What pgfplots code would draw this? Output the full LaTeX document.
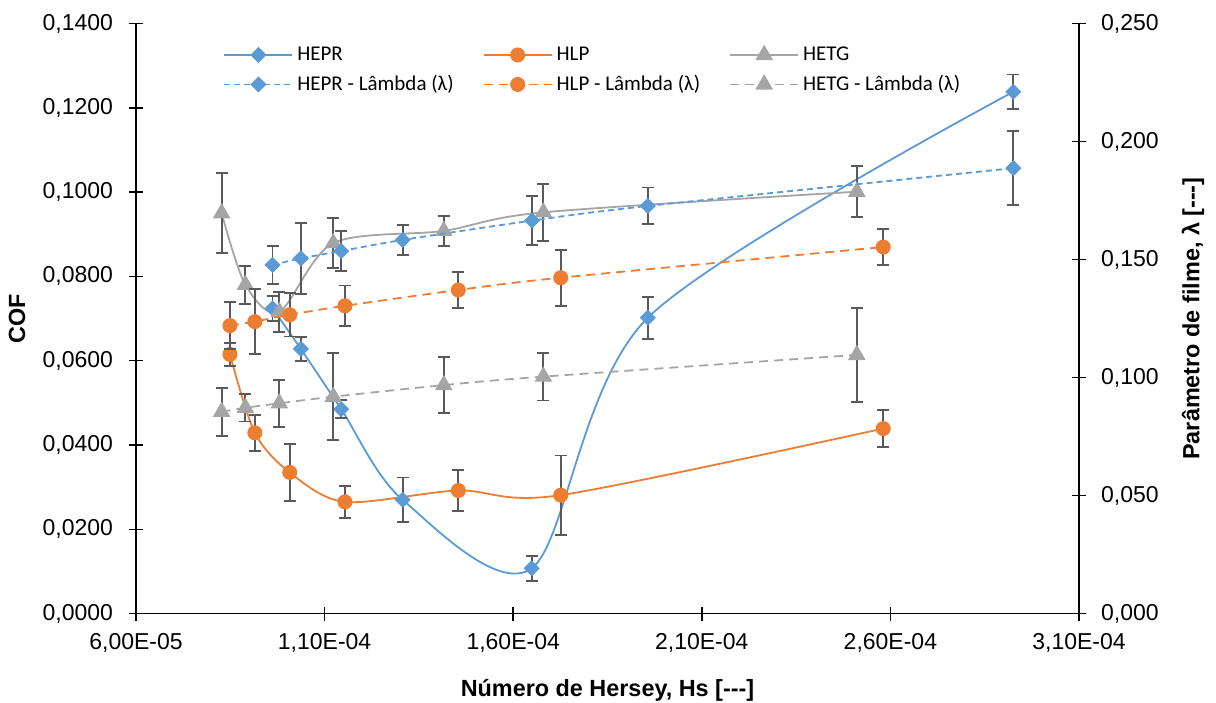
\documentclass[border=0pt]{standalone}
\usepackage{fontspec}
\setmainfont{Liberation Sans}
\newfontfamily\calibri{Carlito}
\usepackage{pgfplots}
\pgfplotsset{compat=1.18}
\definecolor{cblue}{HTML}{5B9BD5}
\definecolor{corange}{HTML}{ED7D31}
\definecolor{cgray}{HTML}{A5A5A5}
\definecolor{cerr}{HTML}{595959}
\pgfdeclareplotmark{xdiamond}{%
  \pgfpathmoveto{\pgfqpoint{0pt}{\pgfplotmarksize}}%
  \pgfpathlineto{\pgfqpoint{\pgfplotmarksize}{0pt}}%
  \pgfpathlineto{\pgfqpoint{0pt}{-\pgfplotmarksize}}%
  \pgfpathlineto{\pgfqpoint{-\pgfplotmarksize}{0pt}}%
  \pgfpathclose\pgfusepathqfillstroke}

\pgfplotstableread{
x y e
9.62e-5 0.0724 0.0030
1.037e-4 0.0628 0.0028
1.144e-4 0.0485 0.0022
1.307e-4 0.0270 0.0053
1.649e-4 0.01075 0.0030
1.957e-4 0.0702 0.0050
2.926e-4 0.1238 0.0041
}\heprcof
\pgfplotstableread{
x y e
8.49e-5 0.0615 0.0028
9.15e-5 0.0429 0.0043
1.0075e-4 0.0335 0.0067
1.154e-4 0.0265 0.0038
1.4545e-4 0.0292 0.0048
1.726e-4 0.0281 0.0094
2.581e-4 0.0439 0.0043
}\hlpcof
\pgfplotstableread{
x y e
8.27e-5 0.0950 0.0095
8.90e-5 0.0780 0.0045
9.80e-5 0.0716 0.0047
1.123e-4 0.0879 0.0059
1.416e-4 0.0908 0.0036
1.680e-4 0.0952 0.0068
2.511e-4 0.1001 0.0061
}\hetgcof
\pgfplotstableread{
x y e
9.62e-5 0.1477 0.0081
1.037e-4 0.1505 0.0150
1.144e-4 0.1536 0.0085
1.307e-4 0.1583 0.0062
1.650e-4 0.1665 0.0104
1.957e-4 0.1727 0.0078
2.926e-4 0.1887 0.0157
}\heprlam
\pgfplotstableread{
x y e
8.49e-5 0.1220 0.0100
9.15e-5 0.1237 0.0138
1.0075e-4 0.1266 0.0092
1.154e-4 0.1304 0.0086
1.4545e-4 0.1371 0.0076
1.726e-4 0.1423 0.0118
2.581e-4 0.1553 0.0078
}\hlplam
\pgfplotstableread{
x y e
8.27e-5 0.0855 0.0101
8.90e-5 0.0872 0.0058
9.80e-5 0.0891 0.0099
1.123e-4 0.0919 0.0185
1.416e-4 0.0968 0.0120
1.680e-4 0.1004 0.0101
2.511e-4 0.1096 0.0200
}\hetglam

\pgfplotsset{
  errs/.style={error bars/.cd, y dir=both, y explicit,
    error bar style={solid, cerr, line width=0.95pt},
    error mark options={rotate=90, solid, cerr, line width=0.95pt, mark size=3pt}},
  sHEPR/.style={cblue, line width=0.9pt, mark=xdiamond, mark size=3.4pt, mark options={solid, fill=cblue, draw=cblue}},
  sHLP/.style={corange, line width=0.9pt, mark=*, mark size=3.3pt, mark options={solid, fill=corange, draw=corange}},
  sHETG/.style={cgray, line width=0.9pt, mark=triangle*, mark size=4.2pt, mark options={solid, fill=cgray, draw=cgray}},
  dblue/.style={dash pattern=on 3pt off 2pt},
  dlong/.style={dash pattern=on 4.5pt off 3pt},
  common/.style={scale only axis, width=471.5pt, height=295.05pt,
    xmin=6e-5, xmax=3.1e-4, scaled x ticks=false, scaled y ticks=false,
    tick align=center, major tick length=7pt,
    every tick/.style={black, line width=0.75pt},
    axis line style={black, line width=0.75pt},
    tick label style={font=\fontsize{11.5}{13}\selectfont},
    label style={font=\bfseries\fontsize{11.7}{14}\selectfont},
    /pgf/number format/assume math mode=true},
}

\begin{document}
\begin{tikzpicture}
\begin{axis}[common,
  ymin=0, ymax=0.14,
  axis x line*=bottom, axis y line*=left,
  xtick={6e-5,1.1e-4,1.6e-4,2.1e-4,2.6e-4,3.1e-4},
  xticklabels={{6,00E-05},{1,10E-04},{1,60E-04},{2,10E-04},{2,60E-04},{3,10E-04}},
  ytick={0,0.02,0.04,0.06,0.08,0.10,0.12,0.14},
  yticklabel style={xshift=-4.5pt, /pgf/number format/fixed, /pgf/number format/fixed zerofill, /pgf/number format/precision=4, /pgf/number format/use comma},
  xticklabel style={yshift=-3pt},
  xlabel={Número de Hersey, Hs [-{}-{}-]},
  ylabel={COF},
  xlabel style={at={(axis description cs:0.5,-0.1295)}, anchor=center},
  ylabel style={at={(axis description cs:-0.1262,0.5)}, anchor=center},
]
\addplot[sHEPR, smooth, errs] table[x=x, y=y, y error=e] {\heprcof};
\addplot[sHLP, smooth, errs] table[x=x, y=y, y error=e] {\hlpcof};
\addplot[sHETG, smooth, errs] table[x=x, y=y, y error=e] {\hetgcof};
\end{axis}
\begin{axis}[common,
  ymin=0, ymax=0.25,
  axis x line=none, axis y line*=right,
  ytick={0,0.05,0.10,0.15,0.20,0.25},
  yticklabel style={xshift=4pt, /pgf/number format/fixed, /pgf/number format/fixed zerofill, /pgf/number format/precision=3, /pgf/number format/use comma},
  ylabel={Parâmetro de filme, λ [-{}-{}-]},
  ylabel style={at={(axis description cs:1.1209,0.5)}, anchor=center},
  legend image code/.code={\draw[mark repeat=2,mark phase=2,#1] plot coordinates {(0pt,0pt)(17pt,0pt)(34pt,0pt)};},
  legend columns=3,
  legend cell align=left,
  legend style={at={(axis description cs:0.086,0.975)}, anchor=north west, draw=none, fill=none,
    font=\calibri\fontsize{10.5}{12}\selectfont, row sep=2pt,
    /tikz/every even column/.append style={column sep=12.5pt}},
]
\addlegendimage{sHEPR}\addlegendentry{HEPR}
\addlegendimage{sHLP}\addlegendentry{HLP}
\addlegendimage{sHETG}\addlegendentry{HETG}
\addplot[sHEPR, dblue, smooth, errs] table[x=x, y=y, y error=e] {\heprlam};
\addlegendentry{HEPR - Lâmbda (λ)}
\addplot[sHLP, dlong, smooth, errs] table[x=x, y=y, y error=e] {\hlplam};
\addlegendentry{HLP - Lâmbda (λ)}
\addplot[sHETG, dlong, smooth, errs] table[x=x, y=y, y error=e] {\hetglam};
\addlegendentry{HETG - Lâmbda (λ)}
\end{axis}
\pgfresetboundingbox
\path (-68pt,-44.2pt) rectangle (540pt,306.8pt);
\end{tikzpicture}
\end{document}
